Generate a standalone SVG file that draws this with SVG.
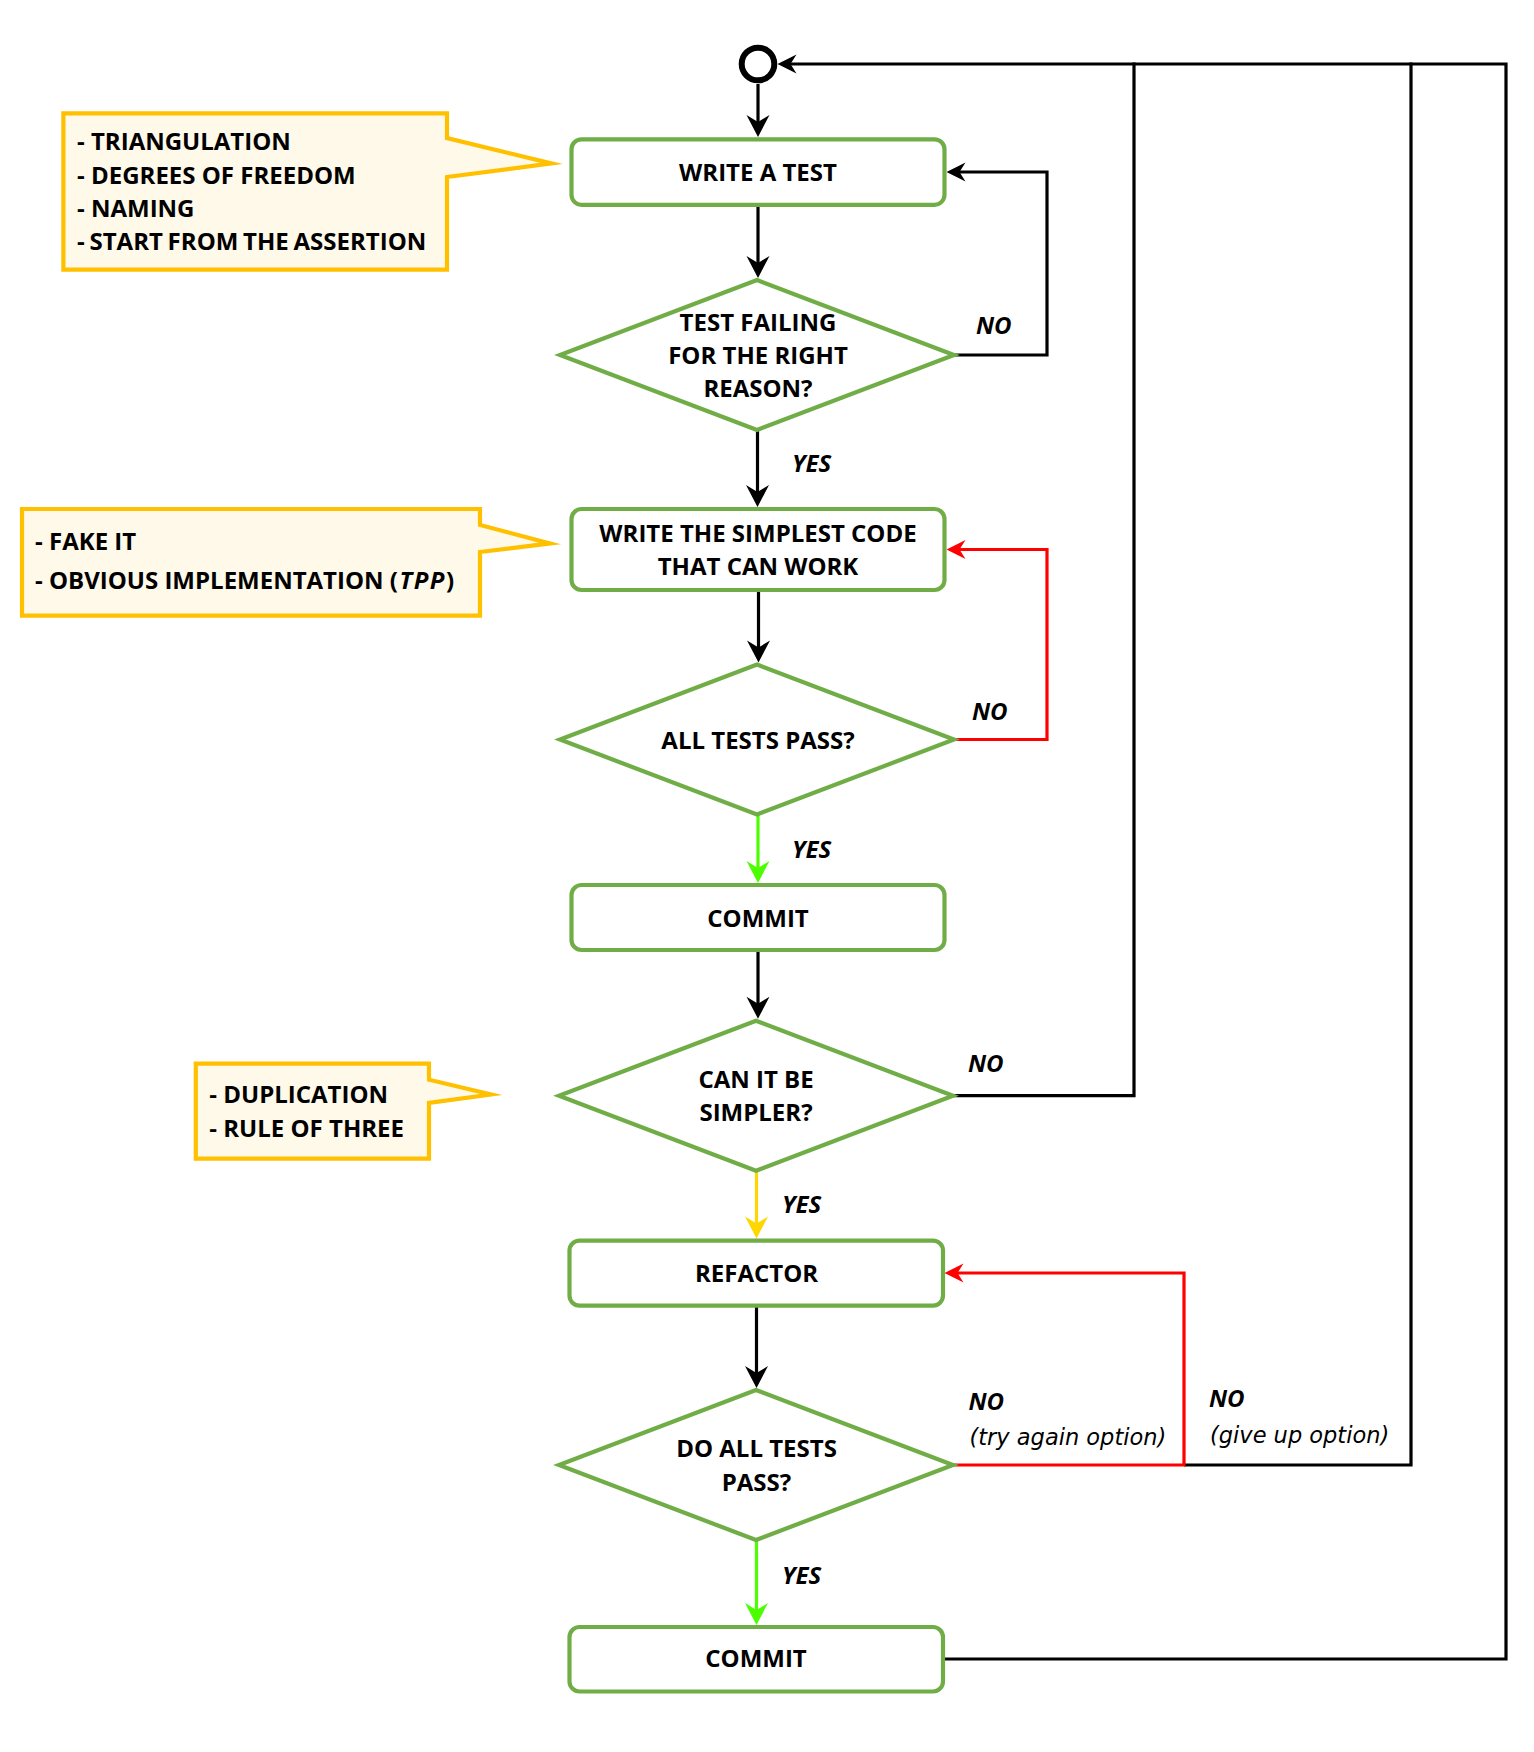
<svg xmlns="http://www.w3.org/2000/svg" width="1534" height="1752" viewBox="0 0 1534 1752">
<style>
.node{fill:#fff;stroke:#70AD47;stroke-width:4.2;}
.note{fill:#FFF9EA;stroke:#FFC000;stroke-width:4.2;stroke-linejoin:miter;stroke-miterlimit:12;}
.t{font-family:'Open Sans','Liberation Sans',sans-serif;font-weight:bold;font-size:24px;fill:#000;}
.c{text-anchor:middle;}
.lbl{font-family:'Open Sans','Liberation Sans',sans-serif;font-weight:bold;font-style:italic;font-size:24px;fill:#000;}
.opt{font-family:'DejaVu Sans',sans-serif;font-style:italic;font-size:22.5px;fill:#000;}
.ln{fill:none;stroke-width:3.2;stroke-linejoin:miter;}
.k{stroke:#000;}
.r{stroke:#FF0000;}
.g{stroke:#4CFF00;}
.y{stroke:#FFD700;}
</style>
<defs>
<marker id="ak" markerUnits="userSpaceOnUse" viewBox="-20 -13 26 26" markerWidth="26" markerHeight="26" refX="0" refY="0" orient="auto"><path d="M4,0 L-18,-11.5 L-11,0 L-18,11.5 Z" fill="#000"/></marker>
<marker id="ag" markerUnits="userSpaceOnUse" viewBox="-20 -13 26 26" markerWidth="26" markerHeight="26" refX="0" refY="0" orient="auto"><path d="M4,0 L-18,-11.5 L-11,0 L-18,11.5 Z" fill="#4CFF00"/></marker>
<marker id="ay" markerUnits="userSpaceOnUse" viewBox="-20 -13 26 26" markerWidth="26" markerHeight="26" refX="0" refY="0" orient="auto"><path d="M4,0 L-18,-11.5 L-11,0 L-18,11.5 Z" fill="#FFD700"/></marker>
<marker id="sk" markerUnits="userSpaceOnUse" viewBox="-18 -11 22 22" markerWidth="22" markerHeight="22" refX="0" refY="0" orient="auto"><path d="M4,0 L-15,-9.5 L-9,0 L-15,9.5 Z" fill="#000"/></marker>
<marker id="sr" markerUnits="userSpaceOnUse" viewBox="-18 -11 22 22" markerWidth="22" markerHeight="22" refX="0" refY="0" orient="auto"><path d="M4,0 L-15,-9.5 L-9,0 L-15,9.5 Z" fill="#FF0000"/></marker>
</defs>

<g id="connectors">
<path class="ln k" d="M758,84 V133" marker-end="url(#ak)"/>
<path class="ln k" d="M758,206 V274" marker-end="url(#ak)"/>
<path class="ln k" d="M757.5,430 V503" marker-end="url(#ak)"/>
<path class="ln k" d="M758.5,592 V658.5" marker-end="url(#ak)"/>
<path class="ln g" d="M758,815 V879" marker-end="url(#ag)"/>
<path class="ln k" d="M758,952 V1014.7" marker-end="url(#ak)"/>
<path class="ln y" d="M756.5,1170 V1234.6" marker-end="url(#ay)"/>
<path class="ln k" d="M756.5,1307 V1384" marker-end="url(#ak)"/>
<path class="ln g" d="M756.5,1540 V1621" marker-end="url(#ag)"/>
<path class="ln k" d="M954,355 H1047 V172 H950.5" marker-end="url(#sk)"/>
<path class="ln r" d="M954,739.5 H1047 V549.5 H950.5" marker-end="url(#sr)"/>
<path class="ln k" d="M953,1095.7 H1134 V62.5"/>
<path class="ln k" d="M1184,1465 H1411 V62.5"/>
<path class="ln r" d="M953,1465 H1184 V1273 H948.5" marker-end="url(#sr)"/>
<path class="ln k" d="M945,1659 H1506 V64 H781.5" marker-end="url(#sk)"/>
<text class="lbl" x="976" y="333.5">NO</text>
<text class="lbl" x="792" y="472">YES</text>
<text class="lbl" x="972" y="720">NO</text>
<text class="lbl" x="792" y="858">YES</text>
<text class="lbl" x="968" y="1072">NO</text>
<text class="lbl" x="782" y="1213">YES</text>
<text class="lbl" x="968.5" y="1410">NO</text>
<text class="opt" x="969.5" y="1445">(try again option)</text>
<text class="lbl" x="1209" y="1407">NO</text>
<text class="opt" x="1210" y="1443">(give up option)</text>
<text class="lbl" x="782" y="1584">YES</text>
</g>

<g id="start">
<circle cx="758" cy="64" r="16.3" fill="#fff" stroke="#000" stroke-width="6"/>
</g>

<g id="write-test">
<rect class="node" x="571.5" y="139.3" width="373" height="65.5" rx="10"/>
<text class="t c" x="758" y="180.7">WRITE A TEST</text>
</g>

<g id="test-failing">
<polygon class="node" points="757,280 954,355 757,430 560,355"/>
<text class="t c" x="758" y="330.7">TEST FAILING</text>
<text class="t c" x="758" y="364">FOR THE RIGHT</text>
<text class="t c" x="758" y="397.3">REASON?</text>
</g>

<g id="simplest-code">
<rect class="node" x="571.5" y="509" width="373" height="81" rx="10"/>
<text class="t c" x="758" y="541.7">WRITE THE SIMPLEST CODE</text>
<text class="t c" x="758" y="575">THAT CAN WORK</text>
</g>

<g id="all-pass">
<polygon class="node" points="757,664.5 954,739.5 757,814.5 560,739.5"/>
<text class="t c" x="758" y="748.6">ALL TESTS PASS?</text>
</g>

<g id="commit-1">
<rect class="node" x="571.5" y="885" width="373" height="65" rx="10"/>
<text class="t c" x="758" y="927">COMMIT</text>
</g>

<g id="simpler">
<polygon class="node" points="756,1020.7 953,1095.7 756,1170.7 559,1095.7"/>
<text class="t c" x="756" y="1088">CAN IT BE</text>
<text class="t c" x="756" y="1121.4">SIMPLER?</text>
</g>

<g id="refactor">
<rect class="node" x="569.5" y="1240.6" width="373.5" height="65" rx="10"/>
<text class="t c" x="756.5" y="1282">REFACTOR</text>
</g>

<g id="do-all-pass">
<polygon class="node" points="756,1390 953,1465 756,1540 559,1465"/>
<text class="t c" x="756.5" y="1457">DO ALL TESTS</text>
<text class="t c" x="756.5" y="1490.7">PASS?</text>
</g>

<g id="commit-2">
<rect class="node" x="569.5" y="1627" width="373.5" height="64.5" rx="10"/>
<text class="t c" x="756" y="1667.3">COMMIT</text>
</g>

<g id="note-test">
<path class="note" d="M63.4,113.4 H447 V138 L551.5,163.4 L447,177 V269.7 H63.4 Z"/>
<text class="t" x="77" y="150.3">- TRIANGULATION</text>
<text class="t" x="77" y="183.8">- DEGREES OF FREEDOM</text>
<text class="t" x="77" y="216.6">- NAMING</text>
<text class="t" x="77" y="250.3" word-spacing="-1.5">- START FROM THE ASSERTION</text>
</g>

<g id="note-code">
<path class="note" d="M22,509 H480 V525 L550,543.4 L480,552 V615.6 H22 Z"/>
<text class="t" x="35" y="550">- FAKE IT</text>
<text class="t" x="35" y="589">- OBVIOUS IMPLEMENTATION <tspan letter-spacing="1.5">(<tspan font-style="italic">TPP</tspan>)</tspan></text>
</g>

<g id="note-refactor">
<path class="note" d="M195.8,1063.7 H429 V1079.7 L491,1094.5 L429,1102.8 V1158.7 H195.8 Z"/>
<text class="t" x="209.3" y="1103">- DUPLICATION</text>
<text class="t" x="209.3" y="1137">- RULE OF THREE</text>
</g>
</svg>
